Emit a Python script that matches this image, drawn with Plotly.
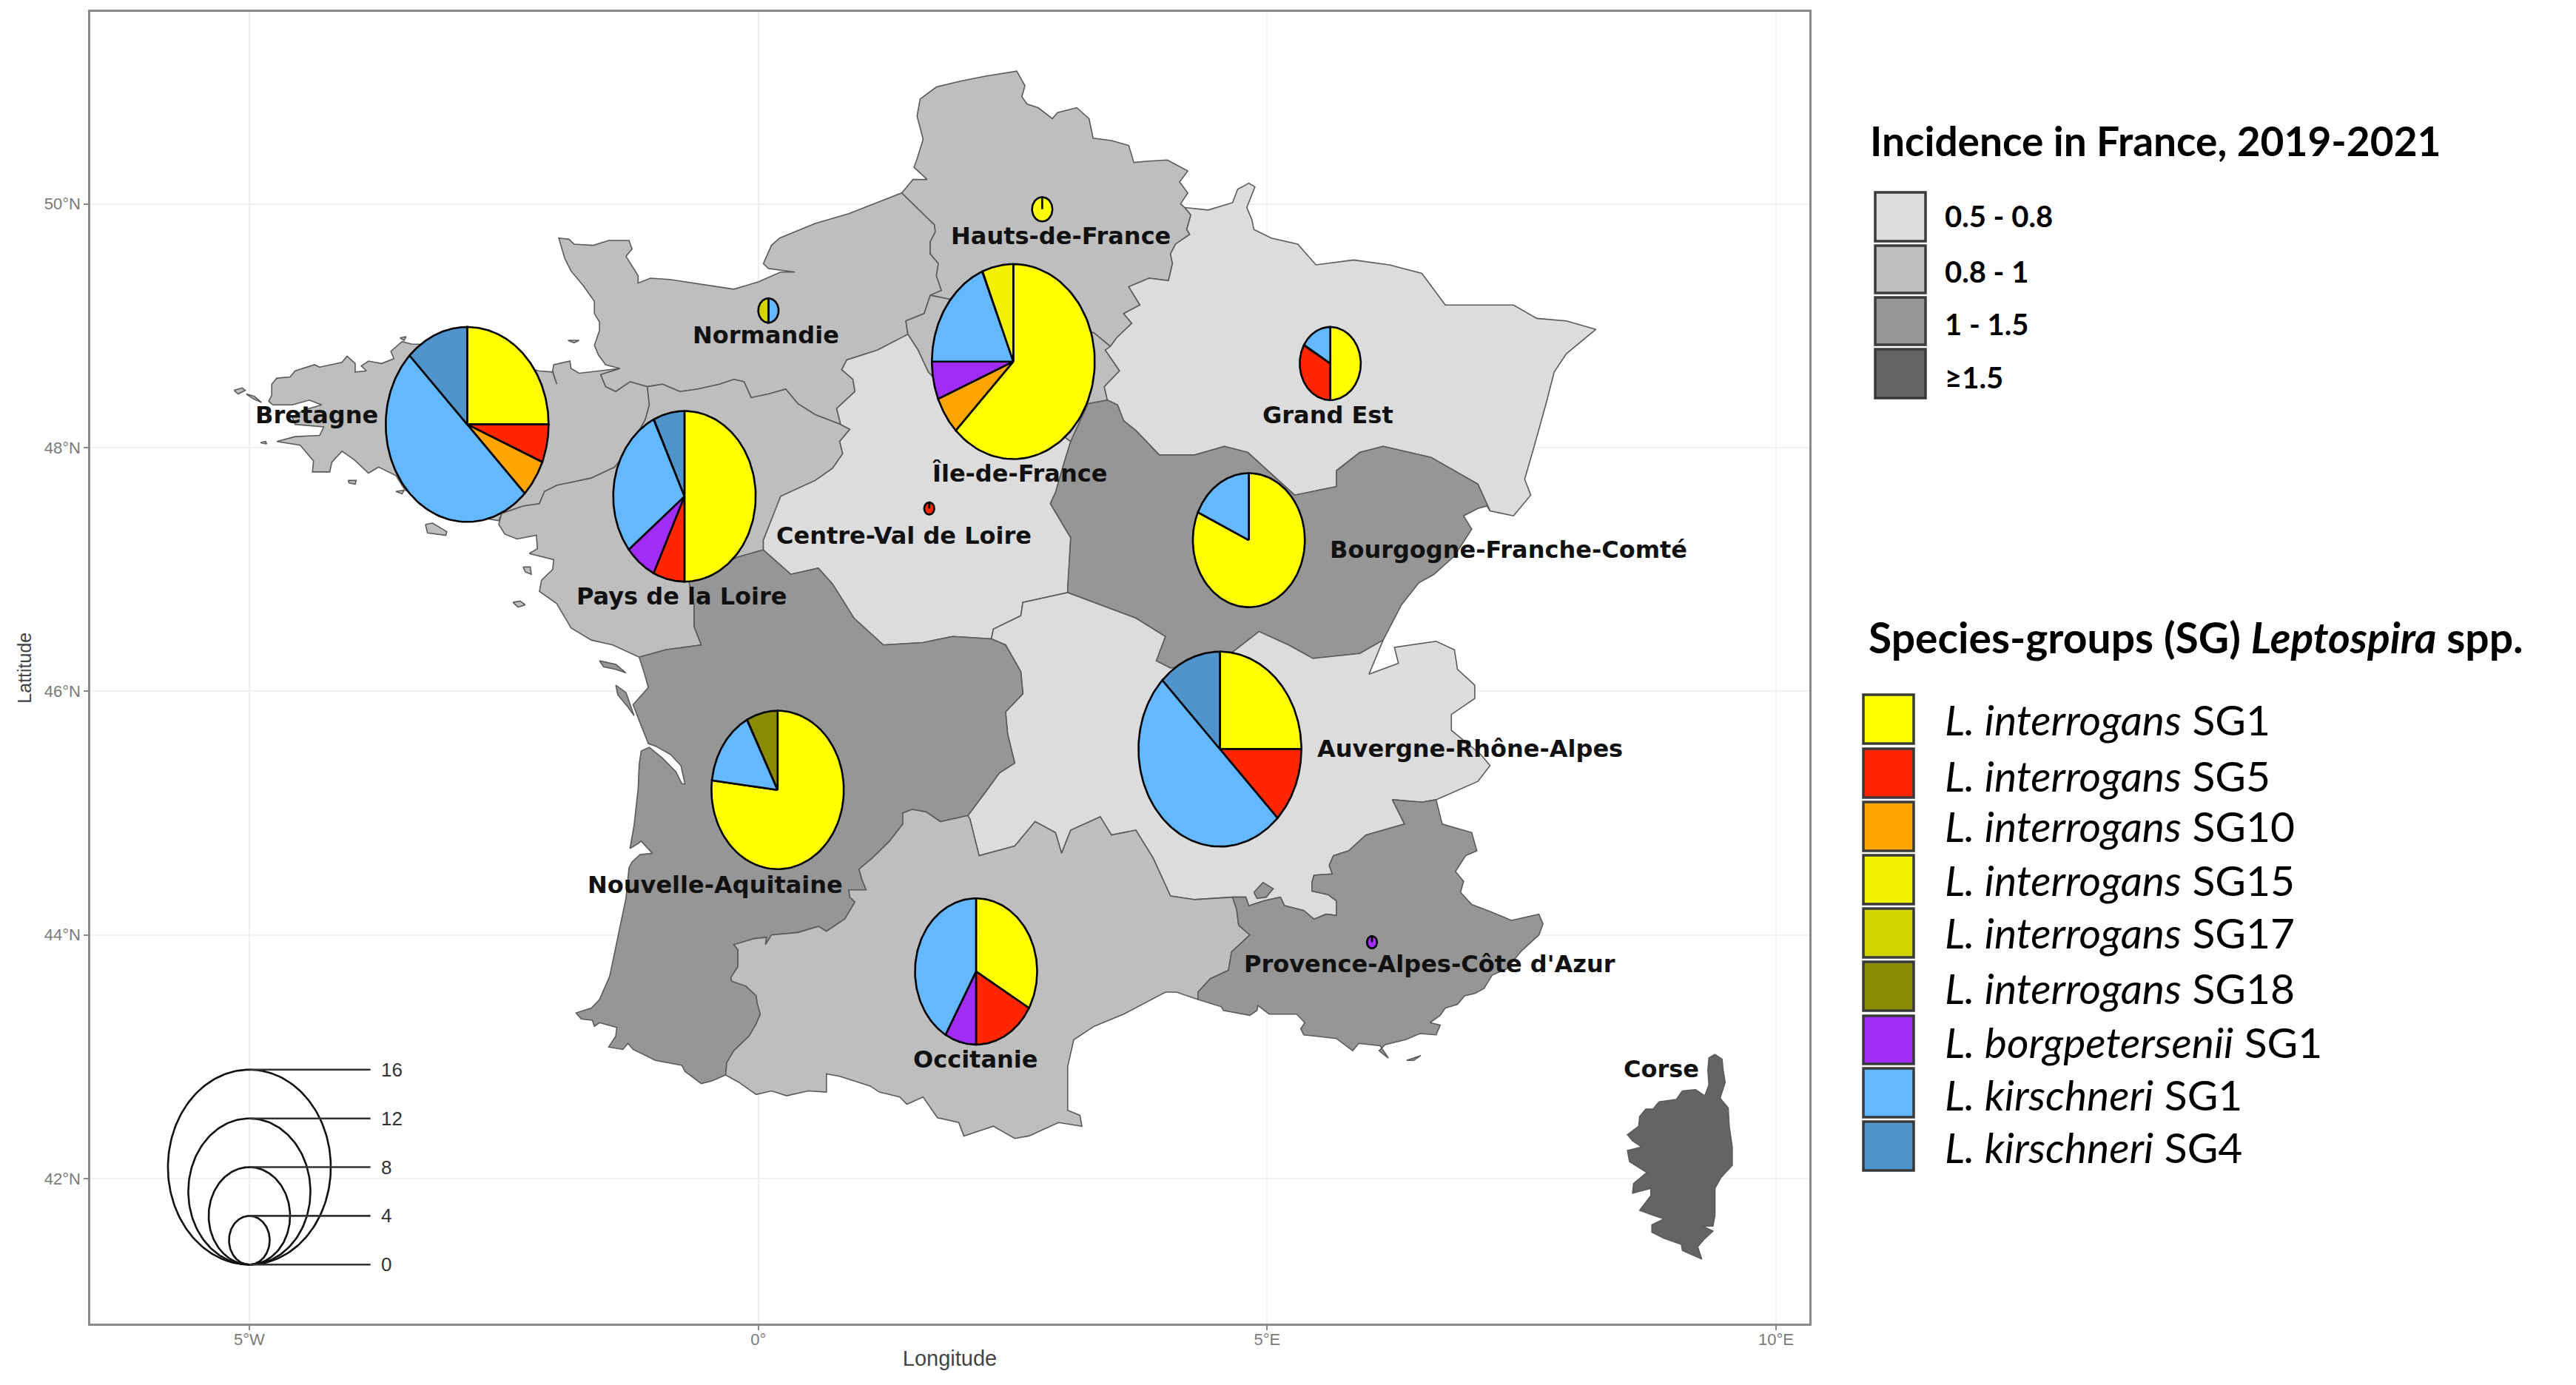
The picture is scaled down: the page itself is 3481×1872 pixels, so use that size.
import numpy as np
import plotly.graph_objects as go

# region borders, lon/lat, each one shared by two regions
COAST_NOR = [(-1.36, 48.65), (-1.50, 48.68), (-1.57, 48.76), (-1.61, 48.84), (-1.56, 48.96), (-1.56, 49.03),
             (-1.61, 49.10), (-1.61, 49.20), (-1.72, 49.33), (-1.84, 49.45), (-1.90, 49.55), (-1.96, 49.72),
             (-1.86, 49.71), (-1.81, 49.67), (-1.62, 49.66), (-1.47, 49.70), (-1.27, 49.70), (-1.24, 49.63),
             (-1.30, 49.57), (-1.18, 49.41), (-1.18, 49.35), (-1.06, 49.39), (-0.87, 49.38), (-0.63, 49.35),
             (-0.24, 49.30), (0.0, 49.36), (0.22, 49.44), (0.36, 49.44), (0.10, 49.47), (0.05, 49.51),
             (0.13, 49.66), (0.21, 49.72), (0.56, 49.84), (0.89, 49.92), (1.41, 50.09)]
NOR_HDF = [(1.41, 50.09), (1.73, 49.83), (1.74, 49.77), (1.69, 49.69), (1.69, 49.59), (1.77, 49.51),
           (1.75, 49.41), (1.80, 49.29), (1.69, 49.25)]
NOR_IDF = [(1.69, 49.25), (1.63, 49.10), (1.45, 49.04), (1.47, 48.93)]
NOR_CVL = [(1.47, 48.93), (1.41, 48.90), (1.17, 48.80), (0.87, 48.72), (0.82, 48.64), (0.93, 48.56),
           (0.95, 48.46), (0.77, 48.32), (0.81, 48.19)]
NOR_PDL = [(0.81, 48.19), (0.56, 48.27), (0.39, 48.36), (0.27, 48.48), (0.10, 48.44), (-0.07, 48.41),
           (-0.14, 48.54), (-0.24, 48.56), (-0.38, 48.52), (-0.60, 48.48), (-0.77, 48.46), (-0.94, 48.52),
           (-1.09, 48.50)]
NOR_BRE = [(-1.09, 48.50), (-1.26, 48.54), (-1.40, 48.46), (-1.50, 48.50), (-1.55, 48.60), (-1.36, 48.65)]
COAST_BRE = [(-1.36, 48.65), (-1.56, 48.63), (-1.76, 48.61), (-1.84, 48.65), (-1.85, 48.71), (-2.01, 48.68),
             (-2.02, 48.63), (-1.98, 48.52), (-2.02, 48.62), (-2.16, 48.63), (-2.65, 48.77), (-3.0, 48.84),
             (-3.41, 48.85), (-3.50, 48.87), (-3.61, 48.79), (-3.58, 48.73), (-3.70, 48.69), (-3.83, 48.71),
             (-3.90, 48.67), (-3.85, 48.63), (-3.96, 48.62), (-3.96, 48.69), (-4.04, 48.75), (-4.09, 48.70),
             (-4.31, 48.66), (-4.36, 48.68), (-4.55, 48.63), (-4.60, 48.58), (-4.73, 48.57), (-4.78, 48.52),
             (-4.78, 48.43), (-4.81, 48.38), (-4.77, 48.35), (-4.58, 48.35), (-4.41, 48.39), (-4.29, 48.35),
             (-4.46, 48.31), (-4.58, 48.25), (-4.55, 48.19), (-4.27, 48.17), (-4.31, 48.10), (-4.55, 48.09),
             (-4.73, 48.05), (-4.50, 48.02), (-4.37, 47.89), (-4.38, 47.80), (-4.21, 47.80), (-4.19, 47.88),
             (-4.09, 47.97), (-3.97, 47.90), (-3.83, 47.79), (-3.73, 47.84), (-3.56, 47.77), (-3.47, 47.65),
             (-3.06, 47.52), (-2.82, 47.44), (-2.55, 47.40), (-2.52, 47.46)]
BRE_PDL = [(-2.52, 47.46), (-2.31, 47.52), (-2.15, 47.54), (-2.10, 47.64), (-1.98, 47.69), (-1.64, 47.75),
           (-1.41, 47.84), (-1.26, 48.0), (-1.11, 48.23), (-1.07, 48.35), (-1.09, 48.50)]
PDL_CVL = [(0.81, 48.19), (0.90, 48.15), (0.80, 48.05), (0.83, 47.95), (0.73, 47.83), (0.56, 47.73),
           (0.22, 47.60), (0.17, 47.49), (0.05, 47.24), (0.05, 47.16)]
PDL_NA = [(0.05, 47.16), (-0.21, 47.10), (-0.68, 46.90), (-0.63, 46.71), (-0.63, 46.53), (-0.56, 46.38),
          (-0.91, 46.34), (-1.17, 46.28)]
COAST_PDL = [(-1.17, 46.28), (-1.43, 46.38), (-1.64, 46.42), (-1.84, 46.52), (-1.98, 46.72), (-2.15, 46.82),
             (-2.13, 46.91), (-2.02, 47.0), (-2.01, 47.08), (-2.25, 47.13), (-2.17, 47.17), (-2.18, 47.28),
             (-2.37, 47.25), (-2.49, 47.29), (-2.55, 47.37), (-2.52, 47.46)]
COAST_HDF = [(1.41, 50.09), (1.52, 50.20), (1.66, 50.20), (1.53, 50.30), (1.56, 50.37), (1.62, 50.53),
             (1.56, 50.72), (1.59, 50.86), (1.75, 50.96), (2.0, 51.01), (2.24, 51.05), (2.54, 51.09),
             (2.62, 50.97), (2.59, 50.88), (2.64, 50.82), (2.75, 50.79), (2.89, 50.70), (2.94, 50.75),
             (3.13, 50.79), (3.25, 50.70), (3.29, 50.54), (3.47, 50.52), (3.64, 50.48), (3.69, 50.34),
             (3.81, 50.35), (4.02, 50.36), (4.22, 50.27), (4.14, 50.18), (4.22, 50.09), (4.15, 50.0),
             (4.19, 49.97)]
HDF_GE = [(4.19, 49.97), (4.25, 49.91), (4.21, 49.79), (4.24, 49.75), (4.10, 49.67), (4.05, 49.59),
          (4.07, 49.51), (4.03, 49.37), (3.84, 49.39), (3.64, 49.32), (3.75, 49.17), (3.59, 49.10),
          (3.67, 49.02), (3.52, 48.90), (3.46, 48.83)]
IDF_HDF = [(3.46, 48.83), (3.30, 48.94), (2.85, 49.08), (2.5, 49.1), (2.1, 49.18), (1.69, 49.25)]
IDF_GE = [(3.46, 48.83), (3.41, 48.80), (3.55, 48.63), (3.40, 48.50), (3.43, 48.39)]
IDF_BFC = [(3.07, 48.05), (3.24, 48.36), (3.43, 48.39)]
IDF_CVL = [(1.47, 48.93), (1.57, 48.80), (1.67, 48.62), (1.9, 48.42), (2.2, 48.32), (2.5, 48.13), (2.9, 48.15),
           (3.07, 48.05)]
CVL_BFC = [(3.07, 48.05), (3.01, 47.89), (2.92, 47.63), (2.87, 47.54), (3.07, 47.26), (3.04, 46.86),
           (3.04, 46.81)]
CVL_ARA = [(3.04, 46.81), (2.60, 46.73), (2.58, 46.62), (2.31, 46.51), (2.29, 46.43)]
CVL_NA = [(2.29, 46.43), (1.91, 46.45), (1.62, 46.40), (1.23, 46.38), (0.94, 46.60), (0.73, 46.88),
          (0.59, 47.01), (0.32, 46.96), (0.05, 47.16)]
GE_OUTER = [(4.19, 49.97), (4.42, 49.95), (4.66, 50.01), (4.71, 50.12), (4.82, 50.17), (4.88, 50.14),
            (4.80, 49.97), (4.85, 49.87), (4.87, 49.79), (5.04, 49.72), (5.30, 49.67), (5.48, 49.50),
            (5.85, 49.54), (6.20, 49.50), (6.52, 49.43),
            (6.75, 49.17), (7.07, 49.17), (7.42, 49.17), (7.65, 49.06), (7.94, 49.04), (8.23, 48.97),
            (7.94, 48.77), (7.82, 48.62), (7.74, 48.36), (7.62, 48.00), (7.53, 47.74), (7.59, 47.61),
            (7.42, 47.44), (7.19, 47.48)]
GE_BFC = [(7.19, 47.48), (7.07, 47.70), (6.61, 47.92), (6.14, 48.01), (5.91, 47.96), (5.68, 47.81),
          (5.68, 47.68), (5.27, 47.61), (4.98, 47.83), (4.81, 47.96), (4.58, 48.01), (4.29, 47.94),
          (3.94, 47.94), (3.71, 48.14), (3.59, 48.22), (3.53, 48.35), (3.43, 48.39)]
BFC_SWISS = [(7.19, 47.48), (7.16, 47.52), (7.07, 47.50), (6.93, 47.44), (7.01, 47.33), (6.84, 47.11),
             (6.64, 46.96), (6.49, 46.89), (6.32, 46.71), (6.14, 46.42)]
BFC_ARA = [(6.14, 46.42), (5.91, 46.31), (5.45, 46.27), (5.21, 46.38), (4.92, 46.49), (4.52, 46.23),
           (4.05, 46.19), (3.91, 46.25), (4.0, 46.45), (3.71, 46.60), (3.04, 46.81)]
ARA_EAST = [(6.14, 46.42), (6.0, 46.14), (6.29, 46.23), (6.25, 46.36), (6.66, 46.41), (6.84, 46.34),
            (6.87, 46.18), (7.04, 46.05), (7.04, 45.94), (6.81, 45.81), (6.81, 45.68), (7.10, 45.48),
            (7.19, 45.39), (7.07, 45.26), (6.66, 45.11)]
ARA_PACA = [(6.66, 45.11), (6.52, 45.09), (6.23, 45.11), (6.35, 44.91), (5.97, 44.82), (5.80, 44.69),
            (5.65, 44.65), (5.61, 44.57), (5.64, 44.50), (5.46, 44.49), (5.44, 44.43), (5.44, 44.36),
            (5.60, 44.33), (5.68, 44.28), (5.68, 44.16), (5.58, 44.17), (5.46, 44.13), (5.36, 44.20),
            (5.17, 44.24), (5.13, 44.31), (4.97, 44.28), (4.82, 44.24), (4.79, 44.31), (4.66, 44.31)]
ARA_OCC = [(4.66, 44.31), (4.29, 44.29), (4.05, 44.32), (3.88, 44.63), (3.71, 44.86), (3.47, 44.82),
           (3.36, 44.97), (3.07, 44.86), (2.98, 44.67), (2.92, 44.84), (2.72, 44.93), (2.52, 44.73),
           (2.17, 44.65), (2.08, 44.95), (2.06, 44.98)]
ARA_NA = [(2.06, 44.98), (2.23, 45.17), (2.37, 45.33), (2.52, 45.41), (2.45, 45.65), (2.43, 45.83),
          (2.60, 45.98), (2.58, 46.16), (2.43, 46.38), (2.29, 46.43)]
NA_OCC = [(2.06, 44.98), (1.79, 44.93), (1.65, 45.01), (1.51, 45.03), (1.42, 45.00), (1.42, 44.91), (1.29, 44.77),
          (1.12, 44.63), (0.99, 44.54), (1.02, 44.45), (1.06, 44.37), (0.89, 44.37), (0.90, 44.31), (0.95, 44.27),
          (0.85, 44.13), (0.67, 44.03), (0.59, 44.07), (0.39, 44.02), (0.13, 44.00), (0.07, 43.92), (0.08, 43.98),
          (-0.04, 43.97), (-0.24, 43.92), (-0.20, 43.88), (-0.20, 43.74), (-0.27, 43.65), (-0.26, 43.62),
          (-0.12, 43.58), (-0.02, 43.50), (-0.01, 43.44), (0.02, 43.35), (-0.02, 43.27), (-0.09, 43.17),
          (-0.24, 43.05), (-0.31, 42.95), (-0.32, 42.85)]
COAST_NA = [(-1.17, 46.28), (-1.12, 46.15), (-1.08, 46.03), (-1.23, 45.89), (-1.17, 45.76), (-1.08, 45.57),
            (-1.01, 45.55), (-0.86, 45.48), (-0.76, 45.39), (-0.72, 45.24), (-0.75, 45.24), (-0.81, 45.34),
            (-0.94, 45.45), (-1.07, 45.54), (-1.15, 45.51), (-1.17, 45.40), (-1.18, 45.20), (-1.22, 44.90),
            (-1.26, 44.71), (-1.18, 44.75), (-1.15, 44.77), (-1.04, 44.67), (-1.16, 44.66), (-1.24, 44.60),
            (-1.27, 44.55), (-1.30, 44.30), (-1.38, 43.98), (-1.46, 43.66), (-1.56, 43.47), (-1.64, 43.40),
            (-1.79, 43.36), (-1.74, 43.31), (-1.63, 43.30), (-1.61, 43.25), (-1.56, 43.28), (-1.39, 43.24),
            (-1.40, 43.17), (-1.47, 43.08), (-1.33, 43.06), (-1.28, 43.11), (-1.23, 43.06), (-1.01, 42.97),
            (-0.75, 42.93), (-0.72, 42.88), (-0.56, 42.78), (-0.46, 42.80), (-0.32, 42.85)]
PYRENEES = [(-0.32, 42.85), (-0.19, 42.79), (-0.02, 42.69), (0.13, 42.72), (0.28, 42.68), (0.49, 42.72),
            (0.67, 42.71), (0.67, 42.86), (0.80, 42.84), (1.10, 42.76), (1.19, 42.71), (1.39, 42.67),
            (1.46, 42.61), (1.62, 42.67), (1.76, 42.50), (1.97, 42.46),
            (2.02, 42.35), (2.31, 42.43), (2.52, 42.33), (2.66, 42.35), (2.95, 42.46), (3.18, 42.43),
            (3.16, 42.52), (3.04, 42.56), (3.04, 42.92), (3.10, 43.14), (3.30, 43.25), (3.59, 43.35),
            (4.0, 43.53), (4.11, 43.53), (4.32, 43.47)]
OCC_PACA = [(4.32, 43.47), (4.32, 43.53), (4.44, 43.64), (4.62, 43.71), (4.65, 43.86), (4.83, 44.0),
            (4.72, 44.08), (4.70, 44.21), (4.66, 44.31)]
COAST_PACA = [(6.66, 45.11), (6.72, 44.91), (7.01, 44.84), (7.06, 44.69), (6.95, 44.65), (6.85, 44.52),
              (6.93, 44.44), (6.90, 44.35), (7.01, 44.25), (7.20, 44.19), (7.40, 44.12), (7.67, 44.17),
              (7.71, 44.09), (7.67, 44.0), (7.50, 43.87), (7.35, 43.72), (7.21, 43.67), (7.13, 43.56),
              (7.04, 43.52), (6.94, 43.50), (6.87, 43.43), (6.75, 43.40), (6.70, 43.34), (6.60, 43.28),
              (6.70, 43.26), (6.66, 43.18), (6.50, 43.19), (6.36, 43.14), (6.16, 43.10), (6.10, 43.05),
              (6.19, 42.99), (6.11, 43.09), (5.90, 43.11), (5.84, 43.05), (5.68, 43.15), (5.36, 43.18),
              (5.33, 43.23), (5.37, 43.28), (5.29, 43.35), (5.02, 43.35), (4.91, 43.42), (4.90, 43.38),
              (4.83, 43.34), (4.57, 43.38), (4.55, 43.41), (4.32, 43.47)]
CORSE = [(9.40, 43.02), (9.47, 42.98), (9.48, 42.89), (9.50, 42.79), (9.45, 42.66), (9.53, 42.58), (9.54, 42.43),
         (9.57, 42.26), (9.57, 42.11), (9.46, 42.01), (9.40, 41.92), (9.40, 41.70), (9.38, 41.61), (9.28, 41.61),
         (9.38, 41.57), (9.29, 41.50), (9.23, 41.44), (9.27, 41.34), (9.08, 41.41), (9.07, 41.46), (8.90, 41.51),
         (8.78, 41.56), (8.78, 41.62), (8.90, 41.67), (8.79, 41.70), (8.66, 41.74), (8.77, 41.86), (8.77, 41.92),
         (8.59, 41.88), (8.60, 41.96), (8.73, 42.05), (8.56, 42.14), (8.54, 42.23), (8.68, 42.26), (8.59, 42.31),
         (8.54, 42.36), (8.65, 42.43), (8.66, 42.51), (8.72, 42.57), (8.79, 42.57), (8.85, 42.63), (9.02, 42.65),
         (9.08, 42.72), (9.21, 42.73), (9.30, 42.68), (9.34, 42.77), (9.33, 42.89), (9.34, 42.99), (9.40, 43.02)]

# small islands and the Vaucluse enclave
ISLANDS_BRE = [[(-5.15, 48.47), (-5.07, 48.49), (-5.04, 48.47), (-5.11, 48.44)],
               [(-5.03, 48.44), (-4.95, 48.42), (-4.88, 48.37), (-4.96, 48.40)],
               [(-4.89, 48.04), (-4.84, 48.05), (-4.83, 48.03)],
               [(-4.03, 47.73), (-3.95, 47.73), (-3.96, 47.70), (-4.02, 47.71)],
               [(-3.27, 47.37), (-3.20, 47.38), (-3.06, 47.31), (-3.07, 47.28), (-3.25, 47.30)],
               [(-3.56, 47.64), (-3.48, 47.65), (-3.50, 47.62)],
               [(-3.52, 48.90), (-3.46, 48.91), (-3.48, 48.88)],
               [(-1.87, 48.88), (-1.76, 48.88), (-1.81, 48.86)]]
ISLANDS_PDL = [[(-2.41, 46.73), (-2.34, 46.74), (-2.29, 46.71), (-2.36, 46.69)],
               [(-2.31, 47.02), (-2.24, 47.02), (-2.23, 46.96), (-2.29, 46.98)]]
ISLANDS_NA = [[(-1.56, 46.25), (-1.40, 46.22), (-1.30, 46.15), (-1.40, 46.18), (-1.52, 46.20)],
              [(-1.40, 46.05), (-1.30, 45.99), (-1.22, 45.80), (-1.28, 45.87), (-1.38, 45.97)]]
ISLANDS_PACA = [[(4.87, 44.35), (4.96, 44.43), (5.06, 44.38), (4.99, 44.31), (4.90, 44.30)],
                [(6.37, 42.97), (6.51, 43.01), (6.44, 42.97)]]

# incidence classes
CLASS_LABELS = ["0.5 - 0.8", "0.8 - 1", "1 - 1.5", "≥1.5"]
CLASS_COLORS = ["#dcdcdc", "#bebebe", "#969696", "#646464"]

# species groups
SG_SPECIES = ["L. interrogans"] * 6 + ["L. borgpetersenii", "L. kirschneri", "L. kirschneri"]
SG_NAMES = ["SG1", "SG5", "SG10", "SG15", "SG17", "SG18", "SG1", "SG1", "SG4"]
SG_COLORS = ["#ffff00", "#ff2600", "#ffa500", "#f2f200", "#d4d400", "#8b8b00", "#a02cf5", "#63b8ff", "#4f94cd"]

# pies: slice order is clockwise from north, groups are indexes into the SG lists
PIE_REGIONS = ["Bretagne", "Pays de la Loire", "Normandie", "Hauts-de-France", "Île-de-France", "Grand Est",
               "Centre-Val de Loire", "Bourgogne-Franche-Comté", "Auvergne-Rhône-Alpes", "Nouvelle-Aquitaine",
               "Occitanie", "Provence-Alpes-Côte d'Azur"]
PIE_LON = [-2.86, -0.725, 0.10, 2.79, 2.506, 5.62, 1.68, 4.82, 4.536, 0.19, 2.14, 6.03]
PIE_LAT = [48.19, 47.60, 49.125, 49.956, 48.706, 48.69, 47.50, 47.24, 45.525, 45.19, 43.70, 43.94]
PIE_GROUPS = [[0, 1, 2, 7, 8], [0, 1, 6, 7, 8], [7, 4], [0], [0, 2, 6, 7, 3], [0, 1, 7],
              [1], [0, 7], [0, 1, 7, 8], [0, 7, 5], [0, 1, 6, 7], [6]]
PIE_COUNTS = [[4, 1, 1, 8, 2], [7, 1, 1, 4, 1], [1, 1], [2], [10, 1, 1, 3, 1], [3, 2, 1],
              [1], [9, 2], [4, 2, 8, 2], [10, 2, 1], [4, 2, 1, 5], [1]]
PIE_SCALE = 0.05  # degrees of radius per case

SIZE_VALUES = [0, 4, 8, 12, 16]

LABEL_LON = [-4.34, -0.75, 0.075, 2.97, 2.57, 5.60, 1.43, 7.37, 6.99, -0.42, 2.13, 6.60]
LABEL_LAT = [48.27, 46.78, 48.92, 49.735, 47.79, 48.27, 47.28, 47.16, 45.53, 44.41, 42.98, 43.76]

W, H = 3481, 1872
INK = "#111111"
REGION_FONT = dict(family="DejaVu Sans", size=32, color=INK)


def path(*segments):
    pts = []
    for seg in segments:
        pts += seg if not pts else seg[1:]
    return pts


REGIONS = [
    (path(COAST_NOR, NOR_HDF, NOR_IDF, NOR_CVL, NOR_PDL, NOR_BRE), 1),
    (path(COAST_BRE, BRE_PDL, NOR_BRE), 1),
    (path(NOR_PDL[::-1], PDL_CVL, PDL_NA, COAST_PDL, BRE_PDL), 1),
    (path(COAST_HDF, HDF_GE, IDF_HDF, NOR_HDF[::-1]), 1),
    (path(NOR_IDF, IDF_CVL, IDF_BFC, IDF_GE[::-1], IDF_HDF), 1),
    (path(NOR_CVL[::-1], IDF_CVL, CVL_BFC, CVL_ARA, CVL_NA, PDL_CVL[::-1]), 0),
    (path(GE_OUTER, GE_BFC, IDF_GE[::-1], HDF_GE[::-1]), 0),
    (path(GE_BFC[::-1], BFC_SWISS, BFC_ARA, CVL_BFC[::-1], IDF_BFC), 2),
    (path(ARA_EAST, ARA_PACA, ARA_OCC, ARA_NA, CVL_ARA[::-1], BFC_ARA[::-1]), 0),
    (path(CVL_NA[::-1], ARA_NA[::-1], NA_OCC, COAST_NA[::-1], PDL_NA[::-1]), 2),
    (path(ARA_OCC, NA_OCC, PYRENEES, OCC_PACA), 1),
    (path(ARA_PACA[::-1], COAST_PACA, OCC_PACA), 2),
    (CORSE, 3),
]
for isl in ISLANDS_BRE + ISLANDS_PDL:
    REGIONS.append((isl + isl[:1], 1))
for isl in ISLANDS_NA + ISLANDS_PACA:
    REGIONS.append((isl + isl[:1], 2))

fig = go.Figure()

for pts, cls in REGIONS:
    lon, lat = zip(*pts)
    fig.add_trace(go.Scatter(x=lon, y=lat, mode="lines", fill="toself", fillcolor=CLASS_COLORS[cls],
                             line=dict(color="#5a5a5a", width=1.6), hoverinfo="skip", showlegend=False))

# pies are drawn in degrees, so they stretch with the axes like the original
for i, name in enumerate(PIE_REGIONS):
    total = sum(PIE_COUNTS[i])
    r = total * PIE_SCALE
    start = 0.0
    for grp, n in zip(PIE_GROUPS[i], PIE_COUNTS[i]):
        end = start + 2 * np.pi * n / total
        t = np.linspace(start, end, 90)
        xs = np.r_[PIE_LON[i], PIE_LON[i] + r * np.sin(t), PIE_LON[i]]
        ys = np.r_[PIE_LAT[i], PIE_LAT[i] + r * np.cos(t), PIE_LAT[i]]
        fig.add_trace(go.Scatter(x=xs, y=ys, mode="lines", fill="toself", fillcolor=SG_COLORS[grp],
                                 line=dict(color="#000000", width=2.6), name=name, showlegend=False,
                                 hoverinfo="skip"))
        start = end

# size legend
SIZE_LON, SIZE_BASE = -5.0, 41.294
for v in SIZE_VALUES[::-1]:
    r = v * PIE_SCALE
    if v:
        t = np.linspace(0, 2 * np.pi, 181)
        fig.add_trace(go.Scatter(x=SIZE_LON + r * np.sin(t), y=SIZE_BASE + r + r * np.cos(t), mode="lines",
                                 line=dict(color="#111111", width=2.6), hoverinfo="skip", showlegend=False))
    fig.add_trace(go.Scatter(x=[SIZE_LON, -3.81], y=[SIZE_BASE + 2 * r] * 2, mode="lines",
                             line=dict(color="#333333", width=2.6), hoverinfo="skip", showlegend=False))
    fig.add_annotation(x=-3.72, y=SIZE_BASE + 2 * r, text=str(v), showarrow=False, xanchor="left",
                       font=dict(family="Liberation Sans", size=26, color="#333333"))

for name, lon, lat in zip(PIE_REGIONS, LABEL_LON, LABEL_LAT):
    fig.add_annotation(x=lon, y=lat, text=f"<b>{name}</b>", showarrow=False, font=REGION_FONT)
fig.add_annotation(x=8.87, y=42.90, text="<b>Corse</b>", showarrow=False, font=REGION_FONT)


def paper_x(px):
    return px / W


def paper_y(px):
    return 1 - px / H


def legend_text(px, py, text, size, xanchor="left"):
    fig.add_annotation(xref="paper", yref="paper", x=paper_x(px), y=paper_y(py), text=text, showarrow=False,
                       xanchor=xanchor, yanchor="middle", xshift=0,
                       font=dict(family="Lato", size=size, color="#000000"))


def swatch(x0, x1, y0, y1, color):
    fig.add_shape(type="rect", xref="paper", yref="paper", x0=paper_x(x0), x1=paper_x(x1), y0=paper_y(y0),
                  y1=paper_y(y1), fillcolor=color, line=dict(color="#3a3a3a", width=3.5))


legend_text(2525, 190, "<b>Incidence in France, 2019-2021</b>", 55)
CLASS_Y = [(260, 326), (332, 396), (402, 466), (472, 538)]
CLASS_TEXT_Y = [292, 367, 438, 510]
for label, col, (y0, y1), ty in zip(CLASS_LABELS, CLASS_COLORS, CLASS_Y, CLASS_TEXT_Y):
    swatch(2534, 2602, y0, y1, col)
    legend_text(2626, ty, f"<b>{label}</b>", 40)

legend_text(2523, 861, "<b>Species-groups (SG) <i>Leptospira</i> spp.</b>", 57)
SG_Y = [(939, 1005), (1012, 1078), (1084, 1150), (1156, 1222), (1228, 1294), (1300, 1366), (1373, 1438),
        (1444, 1510), (1516, 1582)]
SG_TEXT_Y = [972, 1048, 1116, 1189, 1260, 1335, 1408, 1479, 1550]
for sp, sg, col, (y0, y1), ty in zip(SG_SPECIES, SG_NAMES, SG_COLORS, SG_Y, SG_TEXT_Y):
    swatch(2518, 2586, y0, y1, col)
    legend_text(2626, ty, f"<i>{sp}</i> {sg}", 57)

fig.update_layout(
    width=W, height=H, margin=dict(l=0, r=0, t=0, b=0), paper_bgcolor="white", plot_bgcolor="white",
    font=dict(family="Liberation Sans"),
    xaxis=dict(domain=[122 / W, 2445 / W], range=[-6.563, 10.327], tickvals=[-5, 0, 5, 10],
               ticktext=["5°W", "0°", "5°E", "10°E"], showgrid=True, gridcolor="#f1f1f1", gridwidth=1.5,
               zeroline=False, showline=True, linecolor="#8a8a8a", linewidth=2.5, mirror=True, ticks="outside",
               ticklen=6, tickwidth=2, tickcolor="#8a8a8a", tickfont=dict(size=22, color="#7a7a7a"),
               ticklabelstandoff=-6,
               title=dict(text="Longitude", font=dict(size=29, color="#444444"), standoff=4), automargin=False),
    yaxis=dict(domain=[1 - 1789 / H, 1 - 16.4 / H], range=[40.81, 51.574], tickvals=[42, 44, 46, 48, 50],
               ticktext=["42°N", "44°N", "46°N", "48°N", "50°N"], showgrid=True, gridcolor="#f1f1f1", gridwidth=1.5,
               zeroline=False, showline=True, linecolor="#8a8a8a", linewidth=2.5, mirror=True, ticks="outside",
               ticklen=6, tickwidth=2, tickcolor="#8a8a8a", tickfont=dict(size=22, color="#7a7a7a"),
               title=dict(text="Lattitude", font=dict(size=25, color="#444444"), standoff=10), automargin=False),
)

fig.write_html("out.html", config={"displayModeBar": False}, post_script="document.body.style.margin='0';")
